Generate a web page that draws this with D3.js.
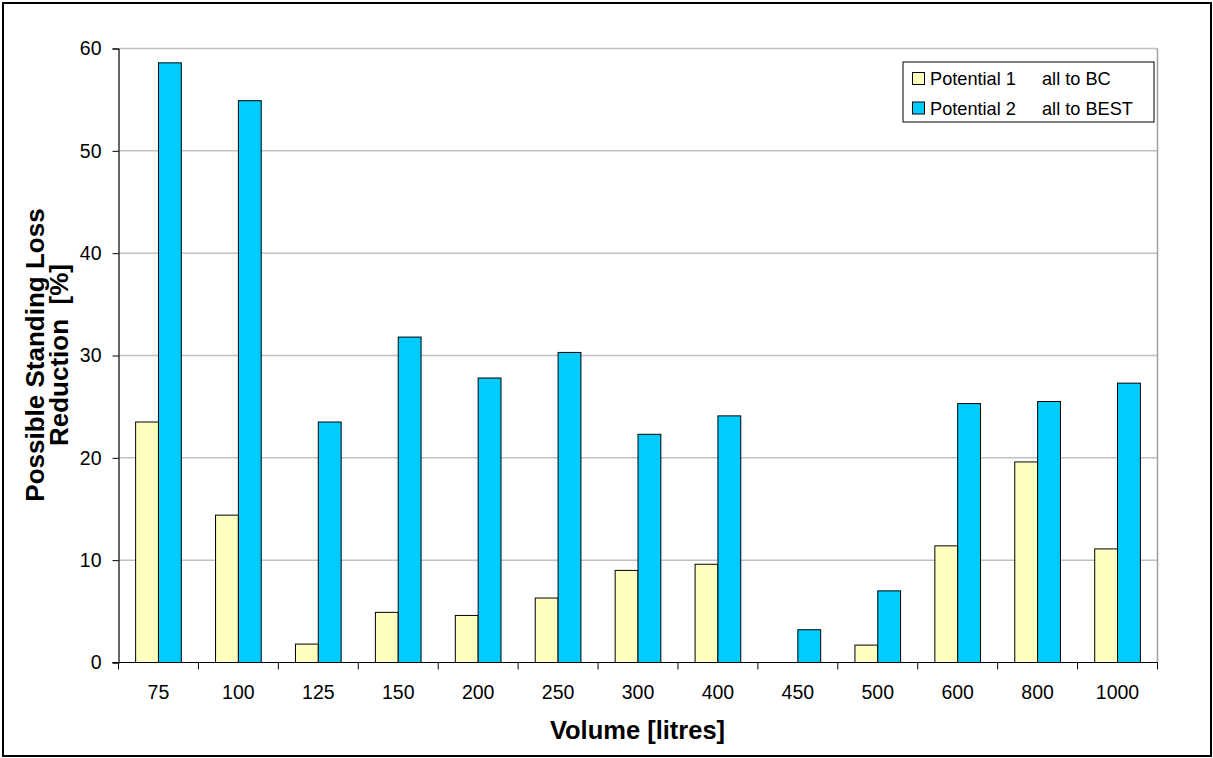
<!DOCTYPE html>
<html>
<head>
<meta charset="utf-8">
<script src="https://cdn.jsdelivr.net/npm/d3@7"></script>
<style>
  html, body { margin: 0; padding: 0; background: #fff; }
  svg { display: block; font-family: "Liberation Sans", Arial, sans-serif; }
</style>
</head>
<body>
<svg id="chart" width="1213" height="758"></svg>
<script>
// Tank volume classes (litres)
const volumes = ["75", "100", "125", "150", "200", "250", "300", "400", "450", "500", "600", "800", "1000"];
// Potential 1: all to BC  [% standing loss reduction]
const potential1 = [23.5, 14.4, 1.8, 4.9, 4.6, 6.3, 9.0, 9.6, 0, 1.7, 11.4, 19.6, 11.1];
// Potential 2: all to BEST
const potential2 = [58.6, 54.9, 23.5, 31.8, 27.8, 30.3, 22.3, 24.1, 3.2, 7.0, 25.3, 25.5, 27.3];
const seriesNames = ["Potential 1", "Potential 2"];
const seriesNotes = ["all to BC", "all to BEST"];
const seriesColors = ["#FFFFC0", "#00CCFF"];
const yTicks = [0, 10, 20, 30, 40, 50, 60];

const svg = d3.select("#chart");
const W = 1213, H = 758;
const m = { left: 118.5, right: 1157.5, top: 48.5, bottom: 662.5 };
const FONT = "'Liberation Sans', Arial, sans-serif";

// outer chart frame
svg.append("rect").attr("x", 3).attr("y", 3).attr("width", W - 5).attr("height", H - 5)
  .attr("fill", "#fff").attr("stroke", "#000").attr("stroke-width", 2);

const x = d3.scaleBand().domain(volumes).range([m.left, m.right]).paddingInner(0).paddingOuter(0);
const y = d3.scaleLinear().domain([0, 60]).range([m.bottom, m.top]);

// horizontal gridlines
svg.append("g").selectAll("line").data(yTicks.filter(d => d > 0)).join("line")
  .attr("x1", m.left).attr("x2", m.right)
  .attr("y1", d => y(d)).attr("y2", d => y(d))
  .attr("stroke", "#c0c0c0").attr("stroke-width", 1.5);

// plot area right edge
svg.append("line").attr("x1", m.right).attr("x2", m.right)
  .attr("y1", m.top).attr("y2", m.bottom).attr("stroke", "#a0a0a0").attr("stroke-width", 1.5);

// grouped bars, gap width 150%
const barW = x.bandwidth() / 3.5;
const data = volumes.map((v, i) => ({ v, vals: [potential1[i], potential2[i]] }));
const groups = svg.append("g").selectAll("g").data(data).join("g")
  .attr("transform", d => `translate(${x(d.v) + x.bandwidth() / 2 - barW},0)`);
groups.selectAll("rect").data(d => d.vals.map((val, s) => ({ val, s })).filter(e => e.val > 0)).join("rect")
  .attr("x", d => d.s * barW)
  .attr("y", d => y(d.val))
  .attr("width", barW)
  .attr("height", d => y(0) - y(d.val))
  .attr("fill", d => seriesColors[d.s])
  .attr("stroke", "#000").attr("stroke-width", 1);

// y axis
const yAxis = d3.axisLeft(y).tickValues(yTicks).tickSize(6).tickPadding(11).tickFormat(d3.format("d"));
const gy = svg.append("g").attr("transform", `translate(${m.left},0)`).call(yAxis);
gy.select(".domain").attr("stroke", "#000").attr("stroke-width", 1.2);
gy.selectAll(".tick line").attr("stroke", "#000");
gy.selectAll("text").attr("font-size", 19.5).attr("fill", "#000").style("font-family", FONT);

// x axis: ticks between categories
const xAxisG = svg.append("g");
xAxisG.append("line").attr("x1", m.left - 6).attr("x2", m.right)
  .attr("y1", y(0)).attr("y2", y(0)).attr("stroke", "#000").attr("stroke-width", 1.2);
const bounds = volumes.map(v => x(v)).concat([m.right]);
xAxisG.selectAll("line.tk").data(bounds).join("line").attr("class", "tk")
  .attr("x1", d => d).attr("x2", d => d)
  .attr("y1", y(0)).attr("y2", y(0) + 7).attr("stroke", "#000");
xAxisG.selectAll("text").data(volumes).join("text")
  .attr("x", d => x(d) + x.bandwidth() / 2).attr("y", 699)
  .attr("text-anchor", "middle").attr("font-size", 19.5).attr("fill", "#000").text(d => d);

// axis titles
svg.append("text").attr("x", 637.5).attr("y", 739).attr("text-anchor", "middle")
  .attr("font-size", 25.5).attr("font-weight", "bold").text("Volume [litres]");
const yt = svg.append("text").attr("transform", "translate(0,355) rotate(-90)")
  .attr("text-anchor", "middle").attr("font-size", 26).attr("font-weight", "bold");
yt.append("tspan").attr("x", 0).attr("y", 44).text("Possible Standing Loss");
yt.append("tspan").attr("x", 0).attr("y", 68).attr("xml:space", "preserve").text("Reduction  [%]");

// legend
const lg = svg.append("g");
lg.append("rect").attr("x", 903).attr("y", 62).attr("width", 251).attr("height", 60)
  .attr("fill", "#fff").attr("stroke", "#000").attr("stroke-width", 1);
seriesNames.forEach((name, i) => {
  const cy = 78.5 + i * 29.5;
  lg.append("rect").attr("x", 912.5).attr("y", cy - 6).attr("width", 12).attr("height", 12)
    .attr("fill", seriesColors[i]).attr("stroke", "#000");
  lg.append("text").attr("x", 930).attr("y", cy + 6.5).attr("font-size", 18.2).text(name);
  lg.append("text").attr("x", 1042).attr("y", cy + 6.5).attr("font-size", 18.2).text(seriesNotes[i]);
});
</script>
</body>
</html>
